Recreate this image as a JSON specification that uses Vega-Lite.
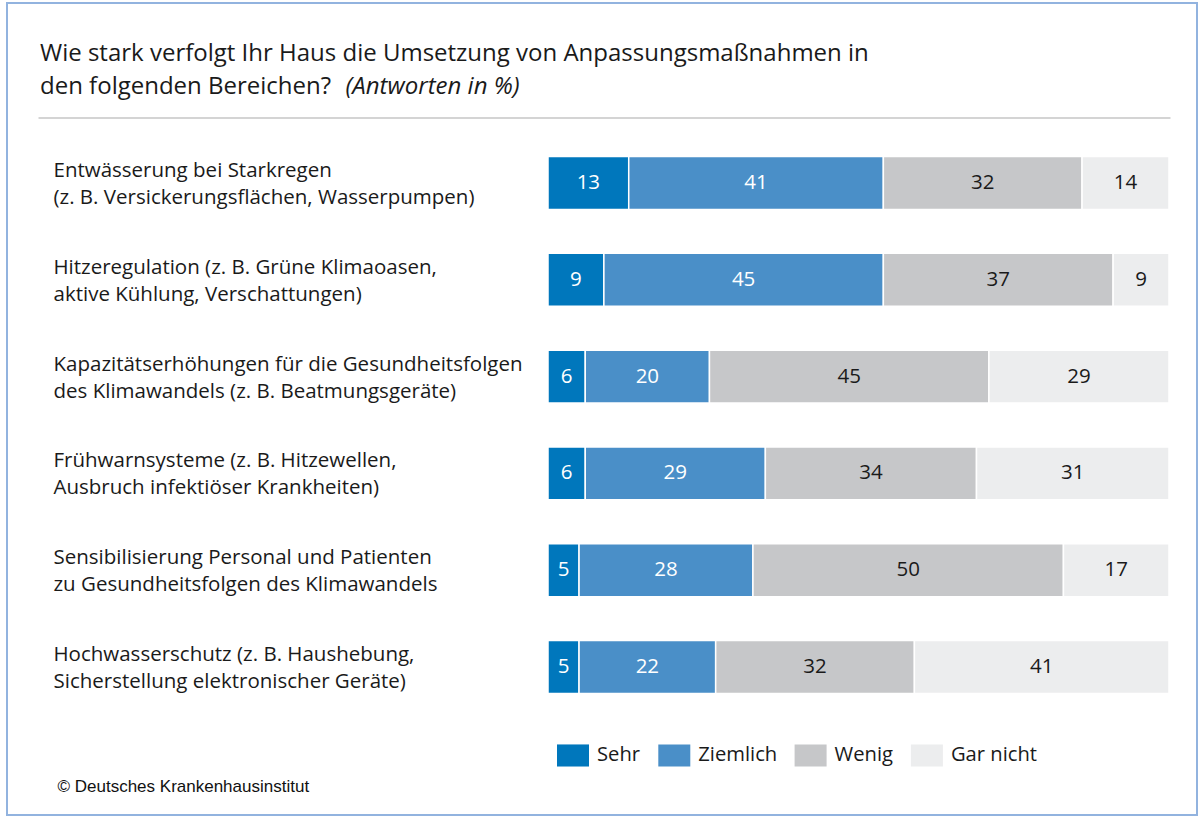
{
  "$schema": "https://vega.github.io/schema/vega-lite/v6.json",
  "width": 1190,
  "height": 812,
  "autosize": {"type": "none"},
  "padding": {"left": 7, "top": 3, "right": 6, "bottom": 3},
  "background": "white",
  "config": {
    "font": "Open Sans",
    "view": {"stroke": "#92b3df", "strokeWidth": 2}
  },
  "title": {
    "text": ["Wie stark verfolgt Ihr Haus die Umsetzung von Anpassungsmaßnahmen in", "den folgenden Bereichen?"],
    "subtitle": "\u200b\u00a0\u00a0\u00a0\u00a0\u00a0\u00a0\u00a0\u00a0\u00a0\u00a0\u00a0\u00a0\u00a0\u00a0\u00a0\u00a0\u00a0\u00a0\u00a0\u00a0\u00a0\u00a0\u00a0\u00a0\u00a0\u00a0\u00a0\u00a0\u00a0\u00a0\u00a0\u00a0\u00a0\u00a0\u00a0\u00a0\u00a0\u00a0\u00a0\u00a0\u00a0\u00a0\u00a0\u00a0\u00a0\u00a0\u00a0\u00a0\u00a0(Antworten in %)",
    "anchor": "start",
    "frame": "group",
    "orient": "top",
    "offset": -96,
    "dx": 33,
    "font": "Open Sans",
    "fontSize": 24,
    "fontWeight": "normal",
    "color": "#1a1a1a",
    "lineHeight": 33,
    "subtitleFont": "Open Sans",
    "subtitleFontSize": 24,
    "subtitleFontStyle": "italic",
    "subtitleColor": "#1a1a1a",
    "subtitlePadding": -24
  },
  "data": {
    "values": [
      {"item": "Entwässerung bei Starkregen|(z. B. Versickerungsflächen, Wasserpumpen)", "cat": "Sehr", "ord": 1, "pct": 13},
      {"item": "Entwässerung bei Starkregen|(z. B. Versickerungsflächen, Wasserpumpen)", "cat": "Ziemlich", "ord": 2, "pct": 41},
      {"item": "Entwässerung bei Starkregen|(z. B. Versickerungsflächen, Wasserpumpen)", "cat": "Wenig", "ord": 3, "pct": 32},
      {"item": "Entwässerung bei Starkregen|(z. B. Versickerungsflächen, Wasserpumpen)", "cat": "Gar nicht", "ord": 4, "pct": 14},
      {"item": "Hitzeregulation (z. B. Grüne Klimaoasen,|aktive Kühlung, Verschattungen)", "cat": "Sehr", "ord": 1, "pct": 9},
      {"item": "Hitzeregulation (z. B. Grüne Klimaoasen,|aktive Kühlung, Verschattungen)", "cat": "Ziemlich", "ord": 2, "pct": 45},
      {"item": "Hitzeregulation (z. B. Grüne Klimaoasen,|aktive Kühlung, Verschattungen)", "cat": "Wenig", "ord": 3, "pct": 37},
      {"item": "Hitzeregulation (z. B. Grüne Klimaoasen,|aktive Kühlung, Verschattungen)", "cat": "Gar nicht", "ord": 4, "pct": 9},
      {"item": "Kapazitätserhöhungen für die Gesundheitsfolgen|des Klimawandels (z. B. Beatmungsgeräte)", "cat": "Sehr", "ord": 1, "pct": 6},
      {"item": "Kapazitätserhöhungen für die Gesundheitsfolgen|des Klimawandels (z. B. Beatmungsgeräte)", "cat": "Ziemlich", "ord": 2, "pct": 20},
      {"item": "Kapazitätserhöhungen für die Gesundheitsfolgen|des Klimawandels (z. B. Beatmungsgeräte)", "cat": "Wenig", "ord": 3, "pct": 45},
      {"item": "Kapazitätserhöhungen für die Gesundheitsfolgen|des Klimawandels (z. B. Beatmungsgeräte)", "cat": "Gar nicht", "ord": 4, "pct": 29},
      {"item": "Frühwarnsysteme (z. B. Hitzewellen,|Ausbruch infektiöser Krankheiten)", "cat": "Sehr", "ord": 1, "pct": 6},
      {"item": "Frühwarnsysteme (z. B. Hitzewellen,|Ausbruch infektiöser Krankheiten)", "cat": "Ziemlich", "ord": 2, "pct": 29},
      {"item": "Frühwarnsysteme (z. B. Hitzewellen,|Ausbruch infektiöser Krankheiten)", "cat": "Wenig", "ord": 3, "pct": 34},
      {"item": "Frühwarnsysteme (z. B. Hitzewellen,|Ausbruch infektiöser Krankheiten)", "cat": "Gar nicht", "ord": 4, "pct": 31},
      {"item": "Sensibilisierung Personal und Patienten|zu Gesundheitsfolgen des Klimawandels", "cat": "Sehr", "ord": 1, "pct": 5},
      {"item": "Sensibilisierung Personal und Patienten|zu Gesundheitsfolgen des Klimawandels", "cat": "Ziemlich", "ord": 2, "pct": 28},
      {"item": "Sensibilisierung Personal und Patienten|zu Gesundheitsfolgen des Klimawandels", "cat": "Wenig", "ord": 3, "pct": 50},
      {"item": "Sensibilisierung Personal und Patienten|zu Gesundheitsfolgen des Klimawandels", "cat": "Gar nicht", "ord": 4, "pct": 17},
      {"item": "Hochwasserschutz (z. B. Haushebung,|Sicherstellung elektronischer Geräte)", "cat": "Sehr", "ord": 1, "pct": 5},
      {"item": "Hochwasserschutz (z. B. Haushebung,|Sicherstellung elektronischer Geräte)", "cat": "Ziemlich", "ord": 2, "pct": 22},
      {"item": "Hochwasserschutz (z. B. Haushebung,|Sicherstellung elektronischer Geräte)", "cat": "Wenig", "ord": 3, "pct": 32},
      {"item": "Hochwasserschutz (z. B. Haushebung,|Sicherstellung elektronischer Geräte)", "cat": "Gar nicht", "ord": 4, "pct": 41}
    ]
  },
  "transform": [
    {"stack": "pct", "groupby": ["item"], "sort": [{"field": "ord", "order": "ascending"}], "as": ["x0", "x1"]},
    {"calculate": "(datum.x0 + datum.x1) / 2", "as": "mid"}
  ],
  "layer": [
    {
      "mark": {"type": "bar", "stroke": "white", "strokeWidth": 1.5},
      "encoding": {
        "y": {
          "field": "item", "type": "nominal", "sort": null,
          "scale": {"range": [131.6, 712.4], "paddingInner": 0.454, "paddingOuter": 0.227},
          "axis": {
            "title": null, "domain": false, "ticks": false, "tickSize": 0,
            "labelAlign": "left", "labelPadding": -46, "labelBaseline": "middle", "labelOffset": -12,
            "labelExpr": "split(datum.label, '|')",
            "labelFont": "Open Sans", "labelFontSize": 20.5, "labelLineHeight": 27,
            "labelColor": "#1a1a1a", "labelLimit": 0
          }
        },
        "x": {
          "field": "x0", "type": "quantitative",
          "scale": {"domain": [0, 100], "range": [541, 1162], "nice": false, "zero": false},
          "axis": {
            "orient": "bottom", "domain": false, "ticks": false, "labels": false, "grid": false,
            "title": "© Deutsches Krankenhausinstitut",
            "titleX": 50, "titleY": -29, "titleAlign": "left", "titleAnchor": null,
            "titleBaseline": "middle", "titleFont": "Liberation Sans", "titleFontSize": 17,
            "titleFontWeight": "normal", "titleColor": "#111111"
          }
        },
        "x2": {"field": "x1"},
        "color": {
          "field": "cat", "type": "nominal",
          "scale": {"domain": ["Sehr", "Ziemlich", "Wenig", "Gar nicht"], "range": ["#0077bc", "#4a8fc8", "#c6c7c9", "#ecedee"]},
          "legend": {
            "title": null, "orient": "none", "legendX": 550, "legendY": 736,
            "direction": "horizontal", "columns": 4, "columnPadding": 17.3,
            "symbolType": "M-1,-0.69H1V0.69H-1Z", "symbolSize": 1024, "symbolStrokeWidth": 0,
            "labelFont": "Open Sans", "labelFontSize": 20.2, "labelColor": "#1a1a1a", "labelOffset": 8
          }
        }
      }
    },
    {
      "mark": {"type": "text", "font": "Open Sans", "fontSize": 20.5, "baseline": "middle", "align": "center"},
      "encoding": {
        "y": {"field": "item", "type": "nominal", "sort": null},
        "x": {
          "field": "mid", "type": "quantitative",
          "scale": {"domain": [0, 100], "range": [541, 1162], "nice": false, "zero": false},
          "axis": null
        },
        "text": {"field": "pct", "type": "quantitative"},
        "color": {
          "condition": {"test": "datum.cat === 'Sehr' || datum.cat === 'Ziemlich'", "value": "white"},
          "value": "#1a1a1a"
        }
      }
    },
    {
      "mark": {"type": "point", "opacity": 0},
      "encoding": {
        "x": {
          "field": "pct", "type": "quantitative",
          "scale": {"domain": [0, 100], "range": [31, 1163], "nice": false},
          "axis": {
            "orient": "top", "offset": -114.5, "domain": true, "domainColor": "#c6c6c6", "domainWidth": 1.5,
            "ticks": false, "labels": false, "grid": false, "title": null
          }
        }
      }
    }
  ],
  "resolve": {"scale": {"x": "independent"}, "axis": {"x": "independent"}}
}
